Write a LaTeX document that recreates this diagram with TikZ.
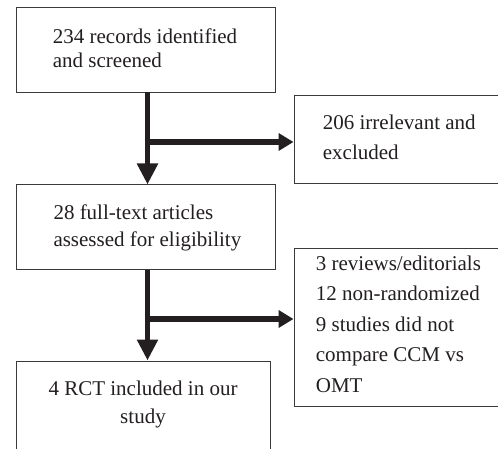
\documentclass[tikz,border=0pt]{standalone}
\usepackage{fontspec}
\setmainfont{Liberation Serif}
\usetikzlibrary{arrows.meta}
\definecolor{ink}{HTML}{231F20}
\definecolor{edge}{HTML}{3A3A3A}
\begin{document}
\begin{tikzpicture}[x=1pt,y=-1pt,
  box/.style={draw=edge,line width=1pt,rectangle,inner sep=0pt},
  txt/.style={anchor=base west,inner sep=0pt,text=ink,font=\fontsize{21}{25}\selectfont},
  ctxt/.style={anchor=base,inner sep=0pt,text=ink,font=\fontsize{21}{25}\selectfont},
  flow/.style={draw=ink,line width=5.6pt,-{Triangle[length=21pt,width=20pt]}},
  side/.style={draw=ink,line width=5.4pt,-{Triangle[length=15pt,width=17pt]}}]
\clip (0,0) rectangle (498,449);
\fill[white] (0,0) rectangle (498,449);
% boxes
\node[box,minimum width=259pt,minimum height=85pt] (b1) at (145.5,50) {};
\node[box,minimum width=216.5pt,minimum height=88.5pt,anchor=west] (b2) at (293.5,139.75) {};
\node[box,minimum width=258.5pt,minimum height=84.5pt] (b3) at (145.75,227.25) {};
\node[box,minimum width=216.5pt,minimum height=157.5pt,anchor=west] (b4) at (293.5,327.75) {};
\node[box,minimum width=254pt,minimum height=109.5pt,anchor=north] (b5) at (143,360.5) {};
% texts
\node[txt] (t1a) at (52.7,43.3) {234 records identified};
\node[txt] (t1b) at (52.7,67.7) {and screened};
\node[txt] (t2a) at (322.7,130) {206 irrelevant and};
\node[txt] (t2b) at (322.7,160) {excluded};
\node[txt] (t3a) at (53.3,219.3) {28 full-text articles};
\node[txt] (t3b) at (53.3,246.7) {assessed for eligibility};
\node[txt] (t4a) at (315.7,270) {3 reviews/editorials};
\node[txt] (t4b) at (315.7,300.5) {12 non-randomized};
\node[txt] (t4c) at (315.7,331) {9 studies did not};
\node[txt] (t4d) at (315.7,361.5) {compare CCM vs};
\node[txt] (t4e) at (315.7,392) {OMT};
\node[ctxt] (t5a) at (143,395) {4 RCT included in our};
\node[ctxt] (t5b) at (143,423) {study};
% connectors
\coordinate (s1) at (147.5,92.5);
\coordinate (j1) at (147.5,142);
\coordinate (s2) at (147.5,269.5);
\coordinate (j2) at (147.5,319);
\draw[flow] (s1) -- (s1 |- b3.north);
\draw[side] ([xshift=-2.8pt]j1) -- (j1 -| b2.west);
\draw[flow] (s2) -- (s2 |- b5.north);
\draw[side] ([xshift=-2.8pt]j2) -- (j2 -| b4.west);
\end{tikzpicture}
\end{document}
